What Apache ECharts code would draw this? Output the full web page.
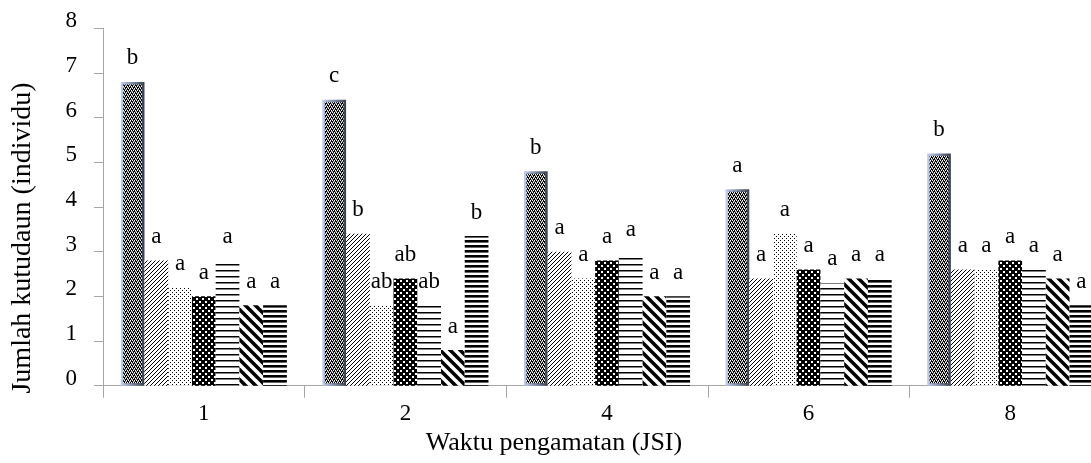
<!DOCTYPE html>
<html>
<head>
<meta charset="utf-8">
<script src="https://cdn.jsdelivr.net/npm/echarts@6/dist/echarts.min.js"></script>
<style>html,body{margin:0;padding:0;background:#fff}#c{width:1091px;height:463px}</style>
</head>
<body>
<div id="c"></div>
<script>
var categories = ['1', '2', '4', '6', '8'];
var yTicks = [0, 1, 2, 3, 4, 5, 6, 7, 8];

var s1 = [6.8, 6.4, 4.8, 4.4, 5.2];
var s2 = [2.8, 3.4, 3.0, 2.4, 2.6];
var s3 = [2.2, 1.8, 2.4, 3.4, 2.6];
var s4 = [2.0, 2.4, 2.8, 2.6, 2.8];
var s5 = [2.8, 1.8, 2.95, 2.3, 2.6];
var s6 = [1.8, 0.8, 2.0, 2.4, 2.4];
var s7 = [1.8, 3.35, 2.0, 2.4, 1.8];

var l1 = ['b', 'c', 'b', 'a', 'b'];
var l2 = ['a', 'b', 'a', 'a', 'a'];
var l3 = ['a', 'ab', 'a', 'a', 'a'];
var l4 = ['a', 'ab', 'a', 'a', 'a'];
var l5 = ['a', 'ab', 'a', 'a', 'a'];
var l6 = ['a', 'a', 'a', 'a', 'a'];
var l7 = ['a', 'b', 'a', 'a', 'a'];

function tile(w, h, draw) {
  var c = document.createElement('canvas');
  c.width = w; c.height = h;
  var g = c.getContext('2d');
  draw(g, w, h);
  return { image: c, repeat: 'repeat' };
}
var pats = [
  tile(4, 4, function (g) { g.fillStyle = '#000'; g.fillRect(0, 0, 4, 4); g.fillStyle = '#fff'; g.fillRect(0, 0, 1, 1); g.fillRect(2, 0, 1, 1); g.fillRect(1, 2, 1, 1); g.fillRect(3, 2, 1, 1); g.fillStyle = '#aaa'; g.fillRect(1, 1, 1, 1); g.fillRect(3, 3, 1, 1); g.fillRect(0, 3, 1, 1); g.fillRect(2, 1, 1, 1); }),
  tile(4, 4, function (g) { g.fillStyle = '#fff'; g.fillRect(0, 0, 4, 4); g.strokeStyle = '#000'; g.lineWidth = 1; g.beginPath(); g.moveTo(-1, 5); g.lineTo(5, -1); g.stroke(); g.beginPath(); g.moveTo(-1, 1); g.lineTo(1, -1); g.stroke(); g.beginPath(); g.moveTo(3, 5); g.lineTo(5, 3); g.stroke(); }),
  tile(4, 4, function (g) { g.fillStyle = '#fff'; g.fillRect(0, 0, 4, 4); g.fillStyle = '#000'; g.fillRect(0, 0, 1, 1); g.fillRect(2, 2, 1, 1); }),
  tile(6, 6, function (g) { g.fillStyle = '#000'; g.fillRect(0, 0, 6, 6); g.fillStyle = '#fff'; g.fillRect(1, 1, 2, 2); g.fillRect(4, 4, 2, 2); }),
  tile(6, 6, function (g) { g.fillStyle = '#fff'; g.fillRect(0, 0, 6, 6); g.fillStyle = '#000'; g.fillRect(0, 0, 6, 1.5); }),
  tile(10, 10, function (g) { g.fillStyle = '#fff'; g.fillRect(0, 0, 10, 10); g.strokeStyle = '#000'; g.lineWidth = 3.5; g.beginPath(); g.moveTo(-2, -2); g.lineTo(12, 12); g.stroke(); g.beginPath(); g.moveTo(8, -2); g.lineTo(12, 2); g.stroke(); g.beginPath(); g.moveTo(-2, 8); g.lineTo(2, 12); g.stroke(); }),
  tile(5, 5, function (g) { g.fillStyle = '#fff'; g.fillRect(0, 0, 5, 5); g.fillStyle = '#000'; g.fillRect(0, 0, 5, 2.6); })
];

var font = "'Liberation Serif', 'Times New Roman', serif";
var values = [s1, s2, s3, s4, s5, s6, s7];
var letters = [l1, l2, l3, l4, l5, l6, l7];

var series = values.map(function (v, i) {
  var item = { color: pats[i] };
  if (i === 0) {
    item.borderColor = new echarts.graphic.LinearGradient(0, 0, 1, 0, [
      { offset: 0, color: '#c3d0ee' }, { offset: 0.5, color: '#7d8aa6' }, { offset: 1, color: '#3a3f4c' }
    ]);
    item.borderWidth = 2.5;
  }
  return {
    type: 'bar',
    data: v,
    barGap: '0%',
    barCategoryGap: '17.6%',
    itemStyle: item,
    label: {
      show: true,
      position: 'top',
      distance: 12,
      color: '#000',
      fontFamily: font,
      fontSize: 23,
      formatter: function (p) { return letters[i][p.dataIndex]; }
    }
  };
});

var chart = echarts.init(document.getElementById('c'));
chart.setOption({
  animation: false,
  backgroundColor: '#fff',
  grid: { left: 103, top: 28.3, width: 1008, height: 357.4, containLabel: false, outerBoundsMode: 'none' },
  xAxis: {
    type: 'category',
    data: categories,
    name: 'Waktu pengamatan (JSI)',
    nameLocation: 'middle',
    nameGap: 43,
    nameTextStyle: { fontFamily: font, fontSize: 26, color: '#000', padding: [0, 106, 0, 0] },
    axisLine: { lineStyle: { color: '#a6a6a6', width: 1 } },
    axisTick: { show: true, length: 12, lineStyle: { color: '#a6a6a6' } },
    axisLabel: { fontFamily: font, fontSize: 23, color: '#000', margin: 17 }
  },
  yAxis: {
    type: 'value',
    min: 0, max: 8, interval: 1,
    name: 'Jumlah kutudaun (individu)',
    nameLocation: 'middle',
    nameGap: 66,
    nameTextStyle: { fontFamily: font, fontSize: 28, color: '#000', padding: [0, 62, 0, 0] },
    axisLine: { show: true, lineStyle: { color: '#a6a6a6', width: 1 } },
    axisTick: { show: true, length: 9, lineStyle: { color: '#a6a6a6' } },
    splitLine: { show: false },
    axisLabel: {
      fontFamily: font, fontSize: 23, color: '#000', margin: 26, lineHeight: 14, verticalAlign: 'bottom',
      formatter: function (v) { return yTicks.indexOf(v) >= 0 ? String(v) : ''; }
    }
  },
  series: series
});
</script>
</body>
</html>
